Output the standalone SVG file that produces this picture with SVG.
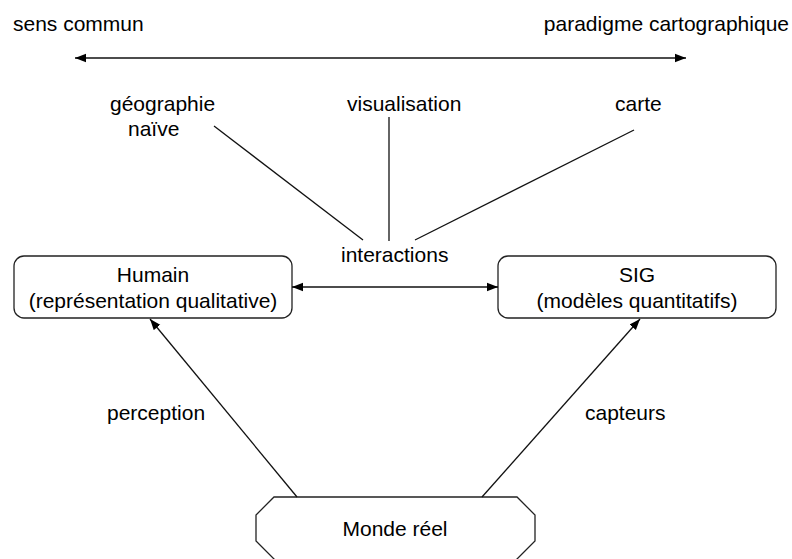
<svg xmlns="http://www.w3.org/2000/svg" width="792" height="559" viewBox="0 0 792 559">
<style>
text{font-family:"Liberation Sans",Arial,sans-serif;font-size:21px;fill:#000}
.c{text-anchor:middle}
.ln{stroke:#111;stroke-width:1.3;fill:none}
.box{fill:#fff;stroke:#222;stroke-width:1.3}
</style>
<defs>
<marker id="ah" markerUnits="userSpaceOnUse" markerWidth="12" markerHeight="10" refX="11" refY="5" orient="auto-start-reverse" viewBox="0 0 12 10">
<path d="M0,0.8 L11,5 L0,9.2 Z" fill="#000"/>
</marker>
</defs>
<rect width="792" height="559" fill="#fff"/>
<g id="labels-top">
<text x="13" y="31">sens commun</text>
<text x="789" y="31" text-anchor="end">paradigme cartographique</text>
</g>
<g id="geographie-naive">
<text x="110" y="111">géographie</text>
<text x="128" y="136">naïve</text>
</g>
<g id="visualisation"><text x="347" y="111">visualisation</text></g>
<g id="carte"><text x="615" y="111">carte</text></g>
<g id="interactions"><text x="341" y="262">interactions</text></g>
<g id="humain">
<rect class="box" x="14" y="256" width="278" height="62" rx="10"/>
<text class="c" x="153" y="282">Humain</text>
<text class="c" x="153" y="308">(représentation qualitative)</text>
</g>
<g id="sig">
<rect class="box" x="498" y="256" width="278" height="62" rx="10"/>
<text class="c" x="637" y="282">SIG</text>
<text class="c" x="637" y="308">(modèles quantitatifs)</text>
</g>
<g id="monde-reel">
<polygon class="box" points="274,497 517,497 535,515 535,541 511,565 280,565 256,541 256,515"/>
<text class="c" x="395" y="536">Monde réel</text>
</g>
<g id="perception-label"><text x="107" y="420">perception</text></g>
<g id="capteurs-label"><text x="585" y="420">capteurs</text></g>
<g id="connectors">
<line class="ln" x1="75" y1="58" x2="686" y2="58" marker-start="url(#ah)" marker-end="url(#ah)"/>
<line class="ln" x1="214" y1="126" x2="363" y2="240"/>
<line class="ln" x1="389" y1="117" x2="389" y2="241"/>
<line class="ln" x1="634" y1="130" x2="415" y2="240"/>
<line class="ln" x1="292" y1="287" x2="498" y2="287" marker-start="url(#ah)" marker-end="url(#ah)"/>
<line class="ln" x1="297" y1="497" x2="150" y2="319" marker-end="url(#ah)"/>
<line class="ln" x1="482" y1="497" x2="640" y2="319" marker-end="url(#ah)"/>
</g>
</svg>
